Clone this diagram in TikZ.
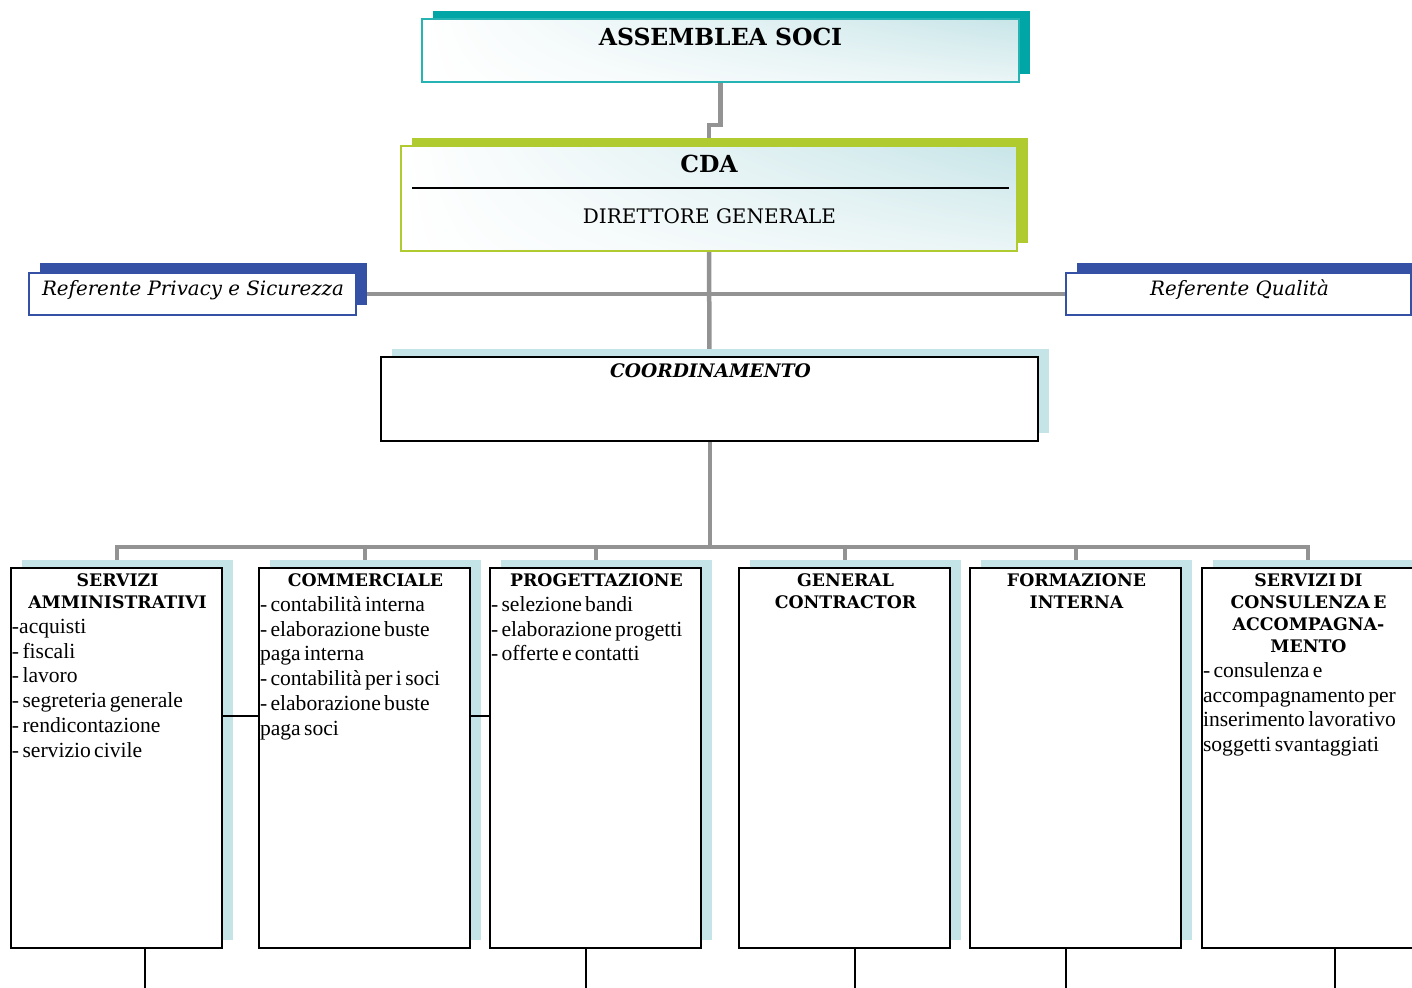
\documentclass[tikz,border=0pt]{standalone}
\usepackage{fontspec}
\setmainfont{Liberation Serif}
\newfontfamily\bk{DejaVu Serif}
\usetikzlibrary{shadows,shadings,backgrounds}
\definecolor{tealS}{HTML}{00A6A6}
\definecolor{limeS}{HTML}{B0CB2F}
\definecolor{blueS}{HTML}{3451A6}
\definecolor{lightT}{HTML}{C5E4E7}
\definecolor{connG}{HTML}{939393}
\definecolor{gradR}{HTML}{C8E5E8}
\definecolor{gradRL}{HTML}{EAF5F6}
\begin{document}
\begin{tikzpicture}[x=1pt,y=-1pt,
  every node/.style={inner sep=0pt, outer sep=0pt},
  gradbox/.style={rectangle, shade, upper left=white, lower left=white,
     upper right=gradR, lower right=gradRL, line width=1.6pt},
  assbox/.style={gradbox, draw=tealS!85, minimum width=597pt, minimum height=63pt,
     general shadow={fill=tealS, shadow xshift=11pt, shadow yshift=8pt}},
  cdabox/.style={gradbox, draw=limeS, minimum width=616pt, minimum height=105pt,
     general shadow={fill=limeS, shadow xshift=11pt, shadow yshift=8pt}},
  refbox/.style={rectangle, fill=white, draw=blueS, line width=1.6pt, minimum height=42pt,
     general shadow={fill=blueS, shadow xshift=10.5pt, shadow yshift=10pt}},
  unitbox/.style={rectangle, fill=white, draw=black, line width=1.8pt,
     minimum width=211pt, minimum height=380pt,
     general shadow={fill=lightT, shadow xshift=10.5pt, shadow yshift=8pt}},
  coordbox/.style={rectangle, fill=white, draw=black, line width=1.8pt,
     minimum width=657pt, minimum height=84pt,
     general shadow={fill=lightT, shadow xshift=10.5pt, shadow yshift=8pt}},
  conn/.style={draw=connG, line width=4.5pt},
  thinconn/.style={draw=black, line width=1.2pt},
  unittext/.style={anchor=north west, text width=211pt, align=left},
  hd/.style={font=\bk\bfseries\fontsize{23.5}{26}\selectfont},
  reft/.style={font=\bk\itshape\fontsize{19.8}{22}\selectfont, anchor=base},
]
\useasboundingbox (0,0) rectangle (1412,987);
\clip (0,0) rectangle (1412,987);

% top nodes
\node[assbox] (ass) at (720.5,50.5) {};
\node[hd, anchor=base] (asst) at (720.5,46) {ASSEMBLEA SOCI};

\node[cdabox] (cda) at (709,198.5) {};
\node[hd, anchor=base] (cdat) at (709,172) {CDA};
\draw[line width=1.6pt] ([xshift=11pt,yshift=10.5pt]cda.west) -- ([xshift=-8pt,yshift=10.5pt]cda.east);
\node[font=\bk\fontsize{20}{22}\selectfont, anchor=base] (dgt) at (709.5,223.5) {DIRETTORE GENERALE};

\node[refbox, minimum width=327pt] (ref1) at (192.5,294) {};
\node[reft] (ref1t) at (193,295.5) {Referente Privacy e Sicurezza};
\node[refbox, minimum width=345pt] (ref2) at (1238.5,294) {};
\node[reft] (ref2t) at (1239.5,295.5) {Referente Qualità};

\node[coordbox] (coord) at (709.5,399) {};
\node[font=\bk\bfseries\itshape\fontsize{18.6}{22}\selectfont, anchor=base] (coordt) at (710.5,377) {COORDINAMENTO};

% unit boxes
\node[unitbox] (b1) at (116.5,758) {};
\node[unitbox] (b2) at (364.5,758) {};
\node[unitbox] (b3) at (595.5,758) {};
\node[unitbox] (b4) at (844.5,758) {};
\node[unitbox] (b5) at (1075.5,758) {};
\node[unitbox] (b6) at (1307.5,758) {};

% connectors
\begin{scope}[on background layer]
\coordinate (jog) at (720.5,125);
\draw[conn] (ass.south) -- (jog) -| (cda.north);
\draw[conn] (cda.south) -- (coord.north);
\draw[conn] (ref1.east) -- (ref2.west);
\coordinate (bus) at (709.5,547);
\draw[conn, line width=4pt] (coord.south) -- (bus);
\draw[conn, line width=4pt] (b1.north) |- (bus) -| (b6.north);
\draw[conn, line width=4pt] (b2.north) -- (b2.north |- bus);
\draw[conn, line width=4pt] (b3.north) -- (b3.north |- bus);
\draw[conn, line width=4pt] (b4.north) -- (b4.north |- bus);
\draw[conn, line width=4pt] (b5.north) -- (b5.north |- bus);
\end{scope}

\draw[thinconn] ([yshift=42pt]b1.east) -- ([yshift=42pt]b2.west);
\draw[thinconn] ([yshift=42pt]b2.east) -- ([yshift=42pt]b3.west);

\coordinate (e1) at (145,990);
\coordinate (e3) at (586,990);
\coordinate (e4) at (855,990);
\coordinate (e5) at (1066,990);
\coordinate (e6) at (1335,990);
\draw[thinconn] (b1.south -| e1) -- (e1);
\draw[thinconn] (b3.south -| e3) -- (e3);
\draw[thinconn] (b4.south -| e4) -- (e4);
\draw[thinconn] (b5.south -| e5) -- (e5);
\draw[thinconn] (b6.south -| e6) -- (e6);

% unit texts
\newcommand{\uhead}[1]{{\centering\bk\bfseries\fontsize{17.3}{22}\selectfont #1\par}}
\newcommand{\ubody}[1]{{\raggedright\fontsize{21.6}{24.7}\selectfont #1\par}}

\node[unittext] (t1) at ([xshift=1pt,yshift=-6pt]b1.north west)
  {\uhead{SERVIZI\\AMMINISTRATIVI}\ubody{-acquisti\\- fiscali\\- lavoro\\- segreteria generale\\- rendicontazione\\- servizio civile}};
\node[unittext] (t2) at ([xshift=1pt,yshift=-6pt]b2.north west)
  {\uhead{COMMERCIALE}\ubody{- contabilità interna\\- elaborazione buste\\paga interna\\- contabilità per i soci\\- elaborazione buste\\paga soci}};
\node[unittext] (t3) at ([xshift=1pt,yshift=-6pt]b3.north west)
  {\uhead{PROGETTAZIONE}\ubody{- selezione bandi\\- elaborazione progetti\\- offerte e contatti}};
\node[unittext] (t4) at ([xshift=1pt,yshift=-6pt]b4.north west)
  {\uhead{GENERAL\\CONTRACTOR}};
\node[unittext] (t5) at ([xshift=1pt,yshift=-6pt]b5.north west)
  {\uhead{FORMAZIONE\\INTERNA}};
\node[unittext] (t6) at ([xshift=1pt,yshift=-6pt]b6.north west)
  {\uhead{SERVIZI DI\\CONSULENZA E\\ACCOMPAGNA-\\MENTO}\ubody{- consulenza e\\accompagnamento per\\inserimento lavorativo\\soggetti svantaggiati}};
\end{tikzpicture}
\end{document}
